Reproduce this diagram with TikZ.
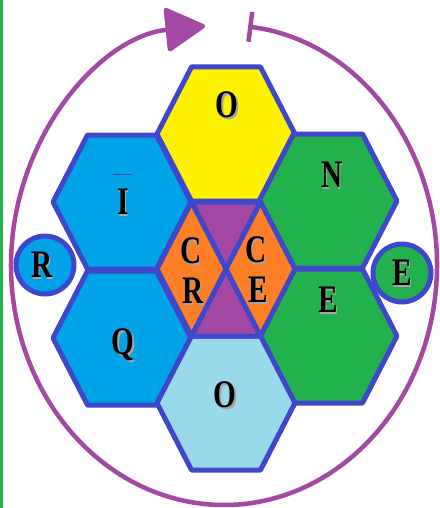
\documentclass[tikz,border=0pt]{standalone}
\usepackage{fontspec}
\newfontfamily\letterfont[FakeStretch=0.75]{Liberation Serif}
\usetikzlibrary{arrows.meta}
\definecolor{pyellow}{HTML}{FFF200}
\definecolor{pblue}{HTML}{00A2E8}
\definecolor{pgreen}{HTML}{22B14C}
\definecolor{plight}{HTML}{99D9EA}
\definecolor{porange}{HTML}{FF7F27}
\definecolor{ppurple}{HTML}{A349A4}
\definecolor{pindigo}{HTML}{3F48CC}
\tikzset{
  edge/.style={draw=pindigo, line width=5pt, line join=round},
  ring/.style={draw=ppurple, line width=4.5pt},
  letterstyle/.style={inner sep=0pt, text=black, font=\letterfont\bfseries\fontsize{39}{41}\selectfont},
  lettershadow/.style={letterstyle, text=black!35}
}
\newcommand{\hexagon}[3]{%
  \begin{scope}[shift={(#1,#2)}]
    \filldraw[edge, fill=#3] (-69,0) -- (-34.5,-67) -- (34.5,-67) -- (69,0) -- (34.5,67) -- (-34.5,67) -- cycle;
  \end{scope}}
\newcommand{\letter}[4]{%
  \node[lettershadow] (#1s) at ({#2+1.5},{#3+1.5}) {#4};
  \node[letterstyle] (#1) at (#2,#3) {#4};}
\begin{document}
\begin{tikzpicture}[x=1pt, y=-1pt]
  \useasboundingbox (0,0) rectangle (439,508);
  \fill[pgreen] (0,0) rectangle (2.5,508);
  % outer ring with arrow
  \coordinate (oc) at (224,265);
  \draw[ring, {Bar[width=30pt]}-{Triangle[length=42pt, width=46pt, round]}]
    (oc) ++(-83.5:213 and 240) arc[start angle=-83.5, end angle=264.9, x radius=213, y radius=240];
  % hexagons
  \hexagon{226}{134}{pyellow}
  \hexagon{122}{202}{pblue}
  \hexagon{122}{338}{pblue}
  \hexagon{328}{201}{pgreen}
  \hexagon{328}{336}{pgreen}
  \hexagon{226}{403}{plight}
  % central hexagon
  \begin{scope}[shift={(226,269)}]
    \coordinate (c) at (0,0);
    \coordinate (tl) at (-34.5,-67);
    \coordinate (tr) at (34.5,-67);
    \coordinate (r) at (69,0);
    \coordinate (br) at (34.5,67);
    \coordinate (bl) at (-34.5,67);
    \coordinate (l) at (-69,0);
    \filldraw[edge, fill=ppurple] (tl) -- (tr) -- (c) -- cycle;
    \filldraw[edge, fill=ppurple] (c) -- (br) -- (bl) -- cycle;
    \filldraw[edge, fill=porange] (l) -- (tl) -- (c) -- (bl) -- cycle;
    \filldraw[edge, fill=porange] (c) -- (tr) -- (r) -- (br) -- cycle;
  \end{scope}
  % side circles
  \filldraw[edge, fill=pblue] (45,265) circle[radius=29];
  \filldraw[edge, fill=pgreen] (402,273) circle[radius=29];
  % letters
  \letter{o1}{227}{105}{O}
  \letter{n}{332}{175}{N}
  \letter{i}{123}{202}{I}
  \draw[pindigo, line width=1pt] (113,174) -- (132,174);
  \letter{e1}{328}{300}{E}
  \letter{q}{123}{345}{Q}
  \letter{o2}{225}{395}{O}
  \letter{c1}{191}{251}{C}
  \letter{r1}{193}{291}{R}
  \letter{c2}{256}{250}{C}
  \letter{e2}{258}{290}{E}
  \letter{r2}{42}{265}{R}
  \letter{e3}{402}{273}{E}
\end{tikzpicture}
\end{document}
